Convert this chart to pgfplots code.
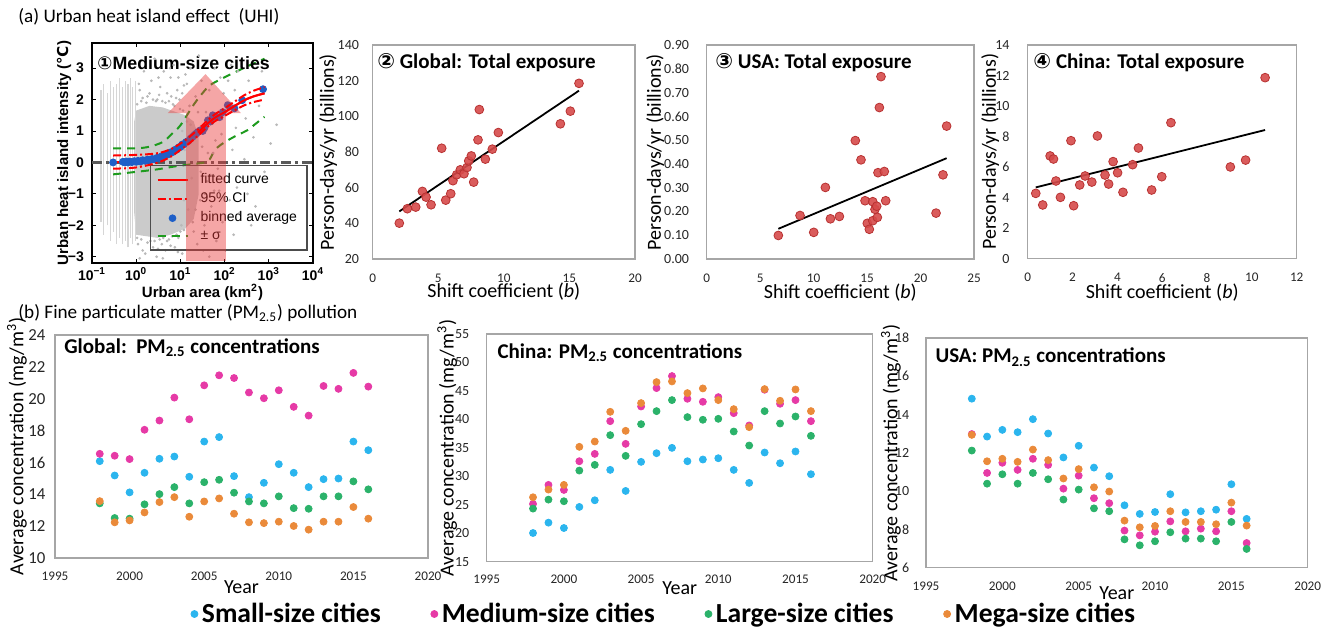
\documentclass[border=0pt]{standalone}
\usepackage{pgfplots}
\usepackage{pgfplotstable}
\pgfplotsset{compat=1.18}
\usepackage{fontspec}
\setmainfont{Carlito}
\newfontfamily\arial{Liberation Sans}
\newfontfamily\dejavu{DejaVu Sans}
\newcommand{\fs}[1]{\fontsize{#1}{#1}\selectfont}
\definecolor{cSmall}{HTML}{2BB5EE}
\definecolor{cMed}{HTML}{E63AA6}
\definecolor{cLarge}{HTML}{2BB26A}
\definecolor{cMega}{HTML}{EA8A3A}
\definecolor{dotR}{HTML}{D64A4A}
\definecolor{dotRe}{HTML}{B83232}
\definecolor{frameg}{HTML}{A6A6A6}
\definecolor{cloud}{HTML}{CBCBCB}
\definecolor{binblue}{HTML}{1E5FC8}
\definecolor{sigg}{HTML}{1E9B1E}
\definecolor{arrowred}{HTML}{E83A3A}

\pgfplotstableread{
year s m l g
1998 16.08 16.54 13.43 13.57
1999 15.18 16.42 12.51 12.24
2000 14.12 16.21 12.47 12.36
2001 15.35 18.05 13.37 12.86
2002 16.23 18.63 14.01 13.51
2003 16.37 20.07 14.45 13.82
2004 15.10 18.71 13.43 12.59
2005 17.31 20.84 14.76 13.55
2006 17.59 21.47 14.91 13.74
2007 15.14 21.30 14.10 12.78
2008 13.82 20.39 13.55 12.24
2009 14.72 20.03 13.43 12.19
2010 15.89 20.53 13.87 12.28
2011 15.35 19.49 13.13 12.01
2012 14.45 18.94 13.09 11.78
2013 14.95 20.80 13.87 12.28
2014 14.99 20.62 13.87 12.28
2015 17.31 21.62 14.81 13.20
2016 16.77 20.76 14.31 12.47
}\tabGlobal

\pgfplotstableread{
year s m l g
1998 20.04 25.15 24.33 26.32
1999 21.86 28.49 25.91 27.67
2000 20.92 27.61 25.62 28.49
2001 24.62 32.65 31.01 35.18
2002 25.79 33.94 32.01 36.11
2003 31.13 39.69 37.23 41.33
2004 27.43 35.70 33.59 37.99
2005 32.54 42.27 39.16 42.86
2006 34.06 45.50 41.45 46.55
2007 35.00 47.61 43.39 46.67
2008 32.65 43.62 40.40 44.62
2009 32.95 43.09 39.93 45.44
2010 33.18 43.91 40.10 43.39
2011 31.13 41.10 37.87 41.80
2012 28.84 38.93 35.41 38.64
2013 34.18 45.21 41.45 45.32
2014 32.30 42.74 39.28 43.27
2015 34.36 43.39 40.51 45.26
2016 30.37 39.69 37.11 41.45
}\tabChina

\pgfplotstableread{
year s m l g
1998 14.83 12.98 12.12 12.94
1999 12.85 10.95 10.39 11.56
2000 13.20 11.48 10.88 11.69
2001 13.08 11.11 10.39 11.53
2002 13.76 11.69 10.95 12.17
2003 13.01 11.37 10.62 11.62
2004 11.76 10.13 9.56 10.66
2005 12.37 10.81 10.08 11.15
2006 11.23 9.63 9.10 10.20
2007 10.78 9.37 8.95 9.98
2008 9.26 7.94 7.48 8.46
2009 8.81 7.69 7.17 8.11
2010 8.91 7.88 7.38 8.18
2011 9.84 8.42 7.85 8.95
2012 8.89 7.90 7.52 8.39
2013 8.95 8.04 7.52 8.39
2014 9.03 7.90 7.38 8.27
2015 10.36 8.95 8.39 9.40
2016 8.55 7.29 6.98 8.20
}\tabUSA

\pgfplotsset{
  xlab/.style={every axis x label/.style={at={([yshift=-#1]axis description cs:0.5,0)}, anchor=center}},
  ylab/.style={every axis y label/.style={at={([xshift=-#1]axis description cs:0,0.5)}, anchor=center, rotate=90}},
  xlstyle/.style={scale only axis, anchor=south west,
    axis line style={draw=frameg, line width=0.6pt},
    major tick length=0pt,
    /pgf/number format/assume math mode=true,
    /pgf/number format/1000 sep={},
    xticklabel style={font=\fs{6.6}, text=black!85, anchor=center},
    yticklabel style={font=\fs{7}, text=black!85, anchor=east},
    label style={font=\fs{8.6}},
  },
  reddot/.style={only marks, mark=*, mark size=2.2pt, mark options={fill=dotR, draw=dotRe, line width=0.4pt, fill opacity=0.9}},
  trend/.style={black, line width=0.9pt},
  sdot/.style={only marks, mark=*, mark size=1.75pt, color=#1},
}

\begin{document}
\begin{tikzpicture}
\path[use as bounding box] (0pt,0pt) rectangle (666.5pt,313.5pt);
\node[anchor=west, font=\fs{9.6}, inner sep=0pt] at (9pt,305pt) {(a) Urban heat island effect\ \ (UHI)};
\node[anchor=west, font=\fs{9.6}, inner sep=0pt] at (9pt,157pt) {(b) Fine particulate matter (PM\textsubscript{2.5}) pollution};

% ---------- Panel 1: UHI ----------
\begin{axis}[scale only axis, anchor=south west, at={(46pt,182pt)}, width=110.5pt, height=110pt,
  xmode=log, xmin=0.1, xmax=10000, ymin=-3.2, ymax=3.8,
  axis line style={line width=1pt, black},
  tick align=inside, major tick length=2pt, xminorticks=false, yminorticks=false,
  tick style={black, line width=0.5pt},
  xtick={0.1,1,10,100,1000,10000},
  xticklabels={10\textsuperscript{−1},10\textsuperscript{0},10\textsuperscript{1},10\textsuperscript{2},10\textsuperscript{3},10\textsuperscript{4}},
  ytick={-3,-2,-1,0,1,2,3}, yticklabels={−3,−2,−1,0,1,2,3},
  tick label style={font=\arial\bfseries\fs{7}},
  xticklabel style={anchor=center, yshift=-5.5pt},
  yticklabel style={anchor=east, xshift=-0.5pt},
  xlab=14.8pt, ylab=14pt,
  xlabel={Urban area (km\textsuperscript{2})}, ylabel={Urban heat island intensity ({\dejavu ℃})},
  label style={font=\arial\bfseries\fs{7.5}},
  legend style={at={(axis description cs:0.262,0.445)}, anchor=north west, draw=black!70, line width=0.6pt, fill=none, font=\arial\fs{7}, inner xsep=3pt, inner ysep=2pt, row sep=-1pt, /tikz/every odd column/.append style={column sep=4pt}},
  legend cell align=left,
  legend image code/.code={\draw[mark repeat=2,mark phase=2,#1] plot coordinates {(0pt,0pt) (7.5pt,0pt) (15pt,0pt)};},
]
\addlegendimage{red, line width=1pt}\addlegendentry{fitted curve}
\addlegendimage{red, line width=1pt, dash pattern=on 4pt off 1.5pt on 1pt off 1.5pt}\addlegendentry{95\% CI}
\addlegendimage{only marks, mark=*, mark size=1.6pt, binblue}\addlegendentry{binned average}
\addlegendimage{sigg, line width=1pt, dash pattern=on 4pt off 3pt}\addlegendentry{± σ}
\addplot[forget plot, fill=cloud, draw=none] coordinates {(1.0,-2.3) (0.9,-1.6) (0.9,1.3) (1.0,1.65) (2,1.8) (4,1.75) (8,1.6) (13,1.5) (20,1.3) (26,0.8) (26,-1.0) (20,-1.8) (13,-2.1) (6,-2.3) (3,-2.4) (1.0,-2.3)};
\addplot[forget plot, gray!32, line width=0.6pt, unbounded coords=jump] coordinates {
(0.16,-1.9) (0.16,2.3) (0.16,nan)
(0.185,-2.3) (0.185,2.5) (0.185,nan)
(0.22,-2.0) (0.22,2.2) (0.22,nan)
(0.264,-2.5) (0.264,2.6) (0.264,nan)
(0.308,-2.2) (0.308,2.4) (0.308,nan)
(0.36,-2.6) (0.36,2.5) (0.36,nan)
(0.42,-2.4) (0.42,2.7) (0.42,nan)
(0.49,-2.6) (0.49,2.4) (0.49,nan)
(0.57,-2.5) (0.57,2.6) (0.57,nan)
(0.65,-2.7) (0.65,2.5) (0.65,nan)
(0.74,-2.4) (0.74,2.7) (0.74,nan)
(0.84,-2.6) (0.84,2.4) (0.84,nan)
(0.95,-2.5) (0.95,2.6)};
\addplot[forget plot, only marks, mark=*, mark size=0.45pt, gray!55] coordinates {
(1.2,2.3) (1.5,2.9) (1.8,2.1) (2.2,2.6) (2.6,3.3) (3,2.0) (3.5,2.4) (4.2,2.9) (5,2.2) (6,2.7) (7,3.1) (8.5,2.3) (9.5,2.0) (1.3,1.95) (2.8,1.95) (4.6,1.9) (6.8,1.85)
(1.1,-2.6) (1.6,-2.9) (2.1,-2.5) (2.9,-3.0) (3.8,-2.6) (4.6,-2.8) (5.5,-2.45) (7.5,-2.7) (9,-2.4) (11,-2.9) (2.4,-2.7)
(11,2.2) (14,2.5) (17,3.0) (22,2.1) (26,3.4) (30,2.6) (45,2.3) (60,3.0) (80,2.7) (15,-1.5) (20,-2.2) (28,-1.2) (35,-2.0) (40,-0.6) (50,-1.4) (65,-2.5) (75,-0.9) (90,-1.9) (55,0.3) (70,-0.2) (85,0.9) (33,-2.8) (45,-3.0)
(120,2.6) (150,0.4) (180,1.1) (200,2.9) (250,-0.5) (300,1.4) (350,2.6) (450,0.8) (600,1.8) (800,-0.3) (130,-1.2) (160,-2.3) (220,-1.6) (400,-2.0) (140,3.1) (280,0.1) (700,2.9) (1500,1.2) (110,1.9) (170,2.3) (190,-0.8) (330,-1.0)
(11,1.0) (12,-1.2) (12.5,0.4) (10.5,-2.0) (16,1.8) (18,-0.5) (24,-2.6) (13,2.8) (38,1.6) (95,2.2) (105,-2.8) (500,-1.4) (1100,0.6)
(1.05,1.85) (1.4,2.05) (1.7,1.9) (2.0,2.2) (2.4,2.0) (3.3,2.15) (3.9,1.95) (5.5,1.95) (6.2,2.1) (7.3,1.8) (8.0,2.05) (9.8,1.7) (11.5,1.65) (1.15,2.5) (3.2,2.7) (5.8,3.0) (9.0,2.7) (12.0,2.45)
(1.05,-2.4) (1.3,-2.45) (1.8,-2.55) (2.6,-2.5) (3.4,-2.45) (4.1,-2.4) (5.0,-2.5) (6.5,-2.35) (8.2,-2.3) (10,-2.2) (12,-2.15) (1.4,-2.8) (3.1,-2.75) (6.0,-2.65) (8.8,-2.85) (1.2,-3.05) (4.0,-3.05)
(14,1.3) (17,1.2) (19,-1.9) (22,-1.5) (25,1.6) (29,-0.3) (31,0.5) (36,-1.0) (42,0.3) (48,-0.4) (58,-0.9) (62,0.7)};
\addplot[forget plot, black!65, line width=1.1pt, dash pattern=on 5pt off 2pt on 1.5pt off 2pt] coordinates {(0.1,0) (10000,0)};
\addplot[forget plot, sigg, line width=1pt, dash pattern=on 4pt off 3pt, smooth] coordinates {(0.3,0.45) (1,0.45) (2,0.5) (4,0.65) (6.3,0.9) (10,1.18) (21,1.88) (42,2.4) (70,2.6) (135,2.8) (380,3.1) (800,3.3)};
\addplot[forget plot, sigg, line width=1pt, dash pattern=on 4pt off 3pt, smooth] coordinates {(0.3,-0.38) (1,-0.3) (3,-0.22) (8,-0.12) (20,-0.05) (35,0.0) (46,0.1) (59,0.38) (80,0.55) (117,0.7) (200,0.88) (324,1.02) (630,1.34) (800,1.45)};
\addplot[forget plot, red, line width=1pt, smooth] coordinates {(0.3,0) (1,0.04) (3,0.14) (6,0.3) (10,0.5) (15,0.68) (25,0.95) (40,1.22) (60,1.42) (100,1.6) (170,1.8) (280,1.98) (450,2.1) (800,2.2)};
\addplot[forget plot, only marks, mark=*, mark size=1.75pt, binblue] coordinates {
(0.3,0.0) (0.5,0.02) (0.55,0.0) (0.6,0.03) (0.65,0.0) (0.7,0.03) (0.8,0.01) (0.9,0.04) (1.0,0.02) (1.1,0.05) (1.25,0.03) (1.4,0.07) (1.6,0.05) (1.8,0.09) (2.0,0.07) (2.3,0.11) (2.6,0.1) (3.0,0.15) (3.4,0.14) (3.8,0.2) (4.3,0.2) (4.8,0.26) (5.4,0.26) (6,0.32) (6.7,0.33) (7.5,0.4) (8.3,0.41) (9.2,0.48) (10,0.49) (11,0.57) (12,0.58) (13.5,0.65) (15,0.68) (17,0.76) (19,0.82) (21,0.88) (23,0.92) (25,0.97) (28,1.02) (32,1.0) (35,1.1) (42,1.34) (48,1.3) (54,1.5) (65,1.45) (77,1.44) (91,1.6) (118,1.82) (167,1.72) (250,1.98) (741,2.33)};
\node[anchor=west, font=\arial\bfseries\fs{8.9}, inner sep=0pt] at (rel axis cs:0.023,0.909) {{\dejavu ①}Medium-size cities};
\end{axis}
\begin{axis}[scale only axis, anchor=south west, at={(46pt,182pt)}, width=110.5pt, height=110pt,
  xmode=log, xmin=0.1, xmax=10000, ymin=-3.2, ymax=3.8, hide axis]
\addplot[fill=arrowred, fill opacity=0.45, draw=none] coordinates {(13.4,-3.13) (13.4,1.57) (5.2,1.57) (37,2.81) (234,1.57) (107,1.57) (107,-3.13) (13.4,-3.13)};
\addplot[red, line width=1pt, smooth] coordinates {(25,0.95) (40,1.22) (60,1.42) (100,1.6) (170,1.8) (280,1.98) (450,2.1) (800,2.2)};
\addplot[red, line width=1pt, smooth, dash pattern=on 4pt off 1.5pt on 1pt off 1.5pt] coordinates {(0.3,0.22) (1,0.24) (3,0.29) (6,0.42) (10,0.6) (15,0.78) (25,1.05) (40,1.32) (60,1.53) (100,1.72) (170,1.94) (280,2.14) (450,2.28) (800,2.4)};
\addplot[red, line width=1pt, smooth, dash pattern=on 4pt off 1.5pt on 1pt off 1.5pt] coordinates {(0.3,-0.2) (1,-0.16) (3,-0.01) (6,0.18) (10,0.4) (15,0.58) (25,0.85) (40,1.12) (60,1.31) (100,1.48) (170,1.66) (280,1.82) (450,1.92) (800,2.0)};
\end{axis}

% ---------- Panel 2 ----------
\begin{axis}[xlstyle, at={(186.35pt,184pt)}, width=131.15pt, height=107pt,
  xmin=0, xmax=20, ymin=20, ymax=140, xtick={0,5,10,15,20}, ytick={20,40,60,80,100,120,140},
  xticklabel style={yshift=-9.5pt}, yticklabel style={xshift=-3.3pt},
  xlab=16.3pt, ylab=22.3pt,
  xlabel={Shift coefficient (\textit{b})}, ylabel={Person-days/yr (billions)}]
\addplot[reddot] coordinates {(2.03,40.1) (2.64,48.2) (3.28,49.1) (3.79,57.9) (4.07,54.7) (4.45,50.4) (5.26,82.1) (5.57,53.0) (5.95,56.6) (6.12,63.9) (6.40,67.2) (6.68,70.0) (6.96,67.8) (7.19,71.3) (7.32,75.0) (7.52,77.8) (7.70,63.1) (8.03,86.8) (8.13,103.8) (8.59,76.0) (9.12,81.6) (9.58,90.9) (14.31,95.8) (15.07,102.9) (15.73,118.5)};
\addplot[trend] coordinates {(2.03,46.7) (15.73,114.4)};
\node[anchor=west, font=\bfseries\fs{10.5}, inner sep=0pt] at (rel axis cs:0.016,0.916) {{\dejavu ②} Global: Total exposure};
\end{axis}

% ---------- Panel 3 ----------
\begin{axis}[xlstyle, at={(353.35pt,184pt)}, width=133.65pt, height=107pt,
  xmin=0, xmax=25, ymin=0, ymax=0.9, xtick={0,5,10,15,20,25}, ytick={0,0.1,0.2,0.3,0.4,0.5,0.6,0.7,0.8,0.9},
  xticklabel style={yshift=-9.5pt},
  yticklabel style={xshift=-5.3pt, /pgf/number format/.cd, fixed, fixed zerofill, precision=2},
  xlab=17pt, ylab=25.8pt,
  xlabel={Shift coefficient (\textit{b})}, ylabel={Person-days/yr (billions)}]
\addplot[reddot] coordinates {(6.70,0.099) (8.73,0.183) (10.01,0.112) (11.10,0.301) (11.57,0.169) (12.41,0.179) (13.90,0.498) (14.43,0.417) (14.81,0.245) (15.02,0.150) (15.21,0.125) (15.53,0.241) (15.53,0.161) (15.74,0.209) (15.90,0.222) (15.96,0.175) (16.02,0.363) (16.15,0.637) (16.30,0.767) (16.61,0.368) (16.74,0.245) (21.45,0.193) (22.10,0.354) (22.44,0.559)};
\addplot[trend] coordinates {(6.70,0.127) (22.44,0.424)};
\node[anchor=west, font=\bfseries\fs{10.5}, inner sep=0pt] at (rel axis cs:0.031,0.916) {{\dejavu ③} USA: Total exposure};
\end{axis}

% ---------- Panel 4 ----------
\begin{axis}[xlstyle, at={(513.85pt,184.15pt)}, width=134.5pt, height=106.85pt,
  xmin=0, xmax=12, ymin=0, ymax=14, xtick={0,2,4,6,8,10,12}, ytick={0,2,4,6,8,10,12,14},
  xticklabel style={yshift=-9.5pt}, yticklabel style={xshift=-5.6pt},
  xlab=17.1pt, ylab=18.8pt,
  xlabel={Shift coefficient (\textit{b})}, ylabel={Person-days/yr (billions)}]
\addplot[reddot] coordinates {(0.36,4.28) (0.67,3.52) (1.00,6.73) (1.15,6.53) (1.26,5.09) (1.46,4.02) (1.93,7.73) (2.05,3.47) (2.32,4.83) (2.56,5.42) (2.86,5.02) (3.11,8.04) (3.45,5.48) (3.61,4.89) (3.81,6.36) (4.01,5.63) (4.25,4.35) (4.68,6.16) (4.94,7.25) (5.53,4.50) (5.98,5.37) (6.39,8.91) (9.04,6.01) (9.72,6.46) (10.59,11.86)};
\addplot[trend] coordinates {(0.36,4.67) (10.59,8.43)};
\node[anchor=west, font=\bfseries\fs{10.5}, inner sep=0pt] at (rel axis cs:0.020,0.916) {{\dejavu ④} China: Total exposure};
\end{axis}

% ---------- B1 Global ----------
\begin{axis}[xlstyle, at={(27.5pt,34.5pt)}, width=186.5pt, height=111.5pt,
  xmin=1995, xmax=2020, ymin=10, ymax=24, xtick={1995,2000,2005,2010,2015,2020}, ytick={10,12,14,16,18,20,22,24},
  xticklabel style={yshift=-9.3pt}, yticklabel style={xshift=-1.3pt, font=\fs{8.4}},
  xlab=14.5pt, ylab=19pt,
  xlabel={Year}, ylabel={Average concentration (mg/m\textsuperscript{3})}]
\addplot[sdot=cSmall] table[x=year,y=s]{\tabGlobal};
\addplot[sdot=cMed] table[x=year,y=m]{\tabGlobal};
\addplot[sdot=cLarge] table[x=year,y=l]{\tabGlobal};
\addplot[sdot=cMega] table[x=year,y=g]{\tabGlobal};
\node[anchor=west, font=\bfseries\fs{10.5}, inner sep=0pt] at (rel axis cs:0.024,0.942) {Global:\ \ PM\textsubscript{2.5} concentrations};
\end{axis}

% ---------- B2 China ----------
\begin{axis}[xlstyle, at={(243.35pt,32.65pt)}, width=193pt, height=113.85pt,
  xmin=1995, xmax=2020, ymin=15, ymax=55, xtick={1995,2000,2005,2010,2015,2020}, ytick={15,20,25,30,35,40,45,50,55},
  xticklabel style={yshift=-8.8pt}, yticklabel style={xshift=-5.2pt},
  xlab=13.3pt, ylab=19.8pt,
  xlabel={Year}, ylabel={Average concentration (mg/m\textsuperscript{3})},
  legend style={at={(axis description cs:0.462,-0.2297)}, anchor=center, draw=none, fill=none, font=\bfseries\fs{13.8}, legend columns=4, /tikz/every even column/.append style={column sep=23pt}},
  legend image code/.code={\draw[mark repeat=2,mark phase=2,#1] plot coordinates {(0pt,0pt) (1pt,0pt) (2pt,0pt)};}]
\addplot[sdot=cSmall] table[x=year,y=s]{\tabChina};
\addlegendentry{Small-size cities}
\addplot[sdot=cMed] table[x=year,y=m]{\tabChina};
\addlegendentry{Medium-size cities}
\addplot[sdot=cLarge] table[x=year,y=l]{\tabChina};
\addlegendentry{Large-size cities}
\addplot[sdot=cMega] table[x=year,y=g]{\tabChina};
\addlegendentry{Mega-size cities}
\node[anchor=west, font=\bfseries\fs{10.5}, inner sep=0pt] at (rel axis cs:0.027,0.917) {China: PM\textsubscript{2.5} concentrations};
\end{axis}

% ---------- B3 USA ----------
\begin{axis}[xlstyle, at={(463pt,29.65pt)}, width=190.85pt, height=114.85pt,
  xmin=1995, xmax=2020, ymin=6, ymax=18, xtick={1995,2000,2005,2010,2015,2020}, ytick={6,8,10,12,14,16,18},
  xticklabel style={yshift=-9.15pt}, yticklabel style={xshift=-4.9pt},
  xlab=12.7pt, ylab=17.5pt,
  xlabel={Year}, ylabel={Average concentration (mg/m\textsuperscript{3})}]
\addplot[sdot=cSmall] table[x=year,y=s]{\tabUSA};
\addplot[sdot=cMed] table[x=year,y=m]{\tabUSA};
\addplot[sdot=cLarge] table[x=year,y=l]{\tabUSA};
\addplot[sdot=cMega] table[x=year,y=g]{\tabUSA};
\node[anchor=west, font=\bfseries\fs{10.5}, inner sep=0pt] at (rel axis cs:0.024,0.917) {USA: PM\textsubscript{2.5} concentrations};
\end{axis}
\end{tikzpicture}
\end{document}
